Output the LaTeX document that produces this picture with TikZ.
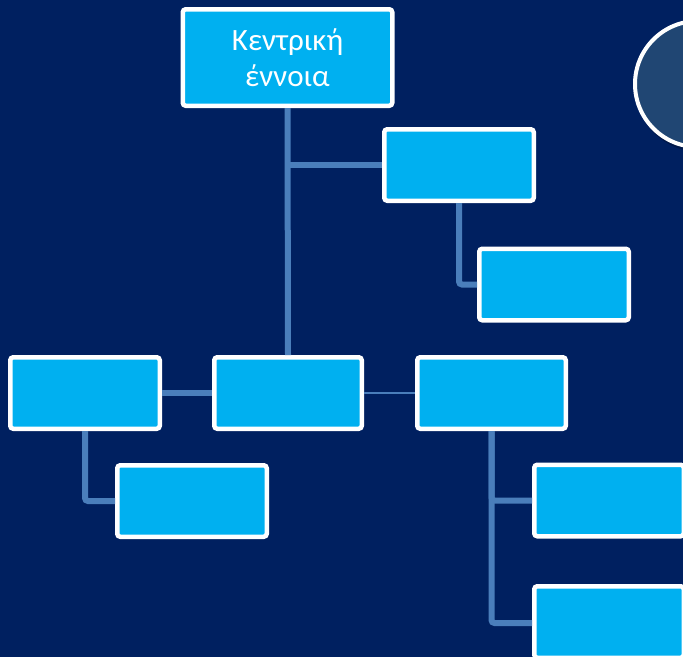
\documentclass[tikz,border=0pt]{standalone}
\usepackage{fontspec}
\setmainfont{Carlito}
\definecolor{bgnavy}{HTML}{002060}
\definecolor{boxcyan}{HTML}{00B0F0}
\definecolor{linkblue}{HTML}{4A7EBB}
\definecolor{circfill}{RGB}{32,70,115}
\definecolor{shadowc}{RGB}{0,20,60}
\begin{document}
\begin{tikzpicture}[x=1pt,y=-1pt,
  orgbox/.style={draw=white,fill=boxcyan,line width=4.5pt,rounded corners=3pt,
    inner sep=0pt,minimum width=149.5pt,minimum height=71.5pt,
    text=white,font=\fontsize{31}{36}\selectfont,align=center},
  thick link/.style={draw=linkblue,line width=6pt,rounded corners=3pt},
  thin link/.style={draw=linkblue,line width=1.5pt}]
\fill[bgnavy] (0,0) rectangle (683,657);
\useasboundingbox (0,0) rectangle (683,657);
% circle top right
\fill[shadowc,opacity=0.6] (700,87) circle (65pt);
\node[circle,draw=white,fill=circfill,line width=4pt,minimum size=126pt,inner sep=0pt] (circ) at (698,84) {};
% boxes
\node[orgbox,minimum width=209.5pt,minimum height=96.5pt] (c) at (287.5,57.5) {Κεντρική\\έννοια};
\node[orgbox] (r1) at (459,165) {};
\node[orgbox] (r1s) at (554,284.5) {};
\node[orgbox,minimum width=147.5pt] (m) at (288,393) {};
\node[orgbox] (l) at (85,393) {};
\node[orgbox,minimum width=148.5pt] (r) at (491.5,393) {};
\node[orgbox] (ls) at (192,501) {};
\node[orgbox] (rs1) at (609,500.5) {};
\node[orgbox] (rs2) at (609,622) {};
% connectors
\draw[thick link] (c.south) -- (m.north);
\draw[thick link] (c.south |- r1.west) -- (r1.west);
\draw[thick link] (r1.south) |- (r1s.west);
\draw[thick link] (l.east) -- (m.west);
\draw[thin link] (m.east) -- (r.west);
\draw[thick link] (l.south) |- (ls.west);
\draw[thick link] (r.south) |- (rs1.west);
\draw[thick link] (r.south) |- ([yshift=-1pt]rs2.west);
\end{tikzpicture}
\end{document}
